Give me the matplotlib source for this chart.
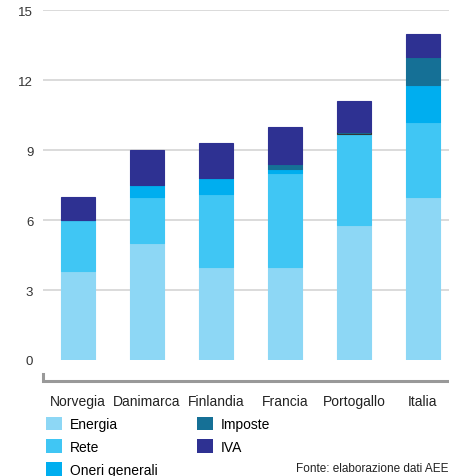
import numpy as np
import matplotlib.pyplot as plt
from matplotlib.patches import Patch
from matplotlib.lines import Line2D

plt.rcParams['font.family'] = ['Liberation Sans', 'DejaVu Sans']

# Components of the electricity price by country (c€/kWh)
countries = ['Norvegia', 'Danimarca', 'Finlandia', 'Francia', 'Portogallo', 'Italia']
energia = [3.8, 5.0, 4.0, 4.0, 5.8, 7.0]
rete = [2.2, 2.0, 3.1, 4.0, 3.9, 3.2]
oneri = [0.0, 0.5, 0.7, 0.2, 0.0, 1.6]
imposte = [0.0, 0.0, 0.0, 0.2, 0.1, 1.2]
iva = [1.0, 1.5, 1.5, 1.6, 1.3, 1.0]

series = [
    ('Energia', energia, '#8dd7f5'),
    ('Rete', rete, '#40c6f4'),
    ('Oneri generali', oneri, '#00aeef'),
    ('Imposte', imposte, '#157096'),
    ('IVA', iva, '#2e3192'),
]

W, H = 449, 477
fig = plt.figure(figsize=(W / 100, H / 100), dpi=100)
ax = fig.add_axes([43 / W, (H - 361) / H, (W - 43) / W, (361 - 11.3) / H])

x = np.arange(len(countries))
bottom = np.zeros(len(countries))
for name, vals, col in series:
    vals = np.array(vals)
    edges = ['#333333' if (name == 'Imposte' and 0 < v < 0.15) else col for v in vals]
    ax.bar(x, vals, 0.49, bottom=bottom, color=col, edgecolor=edges,
           linewidth=0.8, zorder=3)
    bottom += vals

ax.set_xlim(-0.507, 5.377)
ax.set_ylim(0, 15)
ax.set_yticks([0, 3, 6, 9, 12, 15])
ax.yaxis.grid(True, color='#d4d4d4', linewidth=1.2, zorder=0)
ax.set_xticks([])
ax.tick_params(axis='y', length=0, pad=7, labelsize=9.5, labelcolor='#333333')
for s in ax.spines.values():
    s.set_visible(False)
# hide the baseline grid line at zero
ax.get_ygridlines()[0].set_visible(False)

# country names under the bars
for xi, c in zip(x, countries):
    ax.annotate(c, (xi, 0), xytext=(0, -41), textcoords='offset pixels',
                ha='center', va='center', fontsize=10, color='#222222')

# bracket-shaped baseline
fig.add_artist(Line2D([42.5 / W, 42.5 / W, 1.0], [1 - 375 / H, 1 - 381.5 / H, 1 - 381.5 / H],
                      color='#999999', linewidth=2.2, solid_joinstyle='miter'))

handles = [Patch(facecolor=col, edgecolor='none') for _, _, col in series]
labels = [name for name, _, _ in series]
fig.legend(handles, labels, ncol=2, loc='upper left',
           bbox_to_anchor=(46 / W, 1 - 417.5 / H), frameon=False, fontsize=10,
           handlelength=1.15, handleheight=1.15, handletextpad=0.6,
           columnspacing=2.8, labelspacing=0.6, borderpad=0, borderaxespad=0)

fig.text(448 / W, 1 - 469 / H, 'Fonte: elaborazione dati AEE', ha='right', va='center',
         fontsize=8.5, color='#222222')

fig.savefig('out.png', dpi=100)
